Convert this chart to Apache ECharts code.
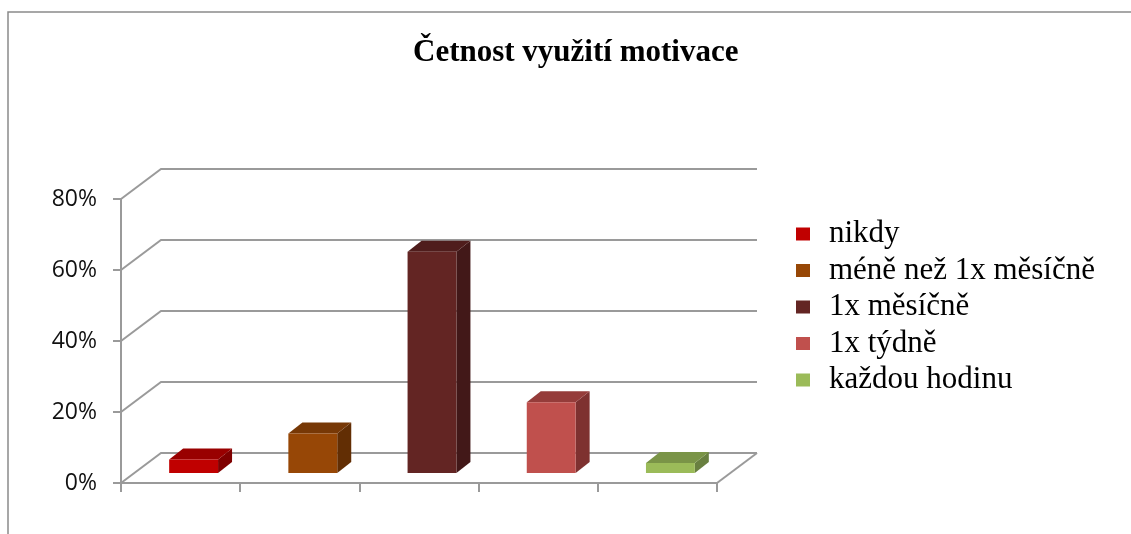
<!DOCTYPE html>
<html>
<head>
<meta charset="utf-8">
<title>Četnost využití motivace</title>
<script src="https://cdn.jsdelivr.net/npm/echarts@6/dist/echarts.min.js"></script>
<style>
  html, body { margin: 0; padding: 0; background: #fff; }
  #chart { width: 1131px; height: 534px; }
</style>
</head>
<body>
<div id="chart"></div>
<script>
// data
const categories = ["nikdy", "méně než 1x měsíčně", "1x měsíčně", "1x týdně", "každou hodinu"];
const values = [3.8, 11.1, 62.3, 19.9, 2.8];
const yTicks = [0, 20, 40, 60, 80];

// face colours (front / top / side)
const frontColors = ["#C00000", "#974706", "#632523", "#C0504D", "#9BBB59"];
const topColors = ["#990000", "#773806", "#4F1D1C", "#953C3A", "#7A9447"];
const sideColors = ["#7F0000", "#622E04", "#421818", "#7E3130", "#698040"];

// depth of the 3d box (back wall offset) and bar offsets
const wallDx = 40, wallDy = -30;
const barDx = 13, barDy = -10;
const depthDx = 14, depthDy = -11;
const gridColor = "#9A9A9A";

const chart = echarts.init(document.getElementById("chart"));

function renderWall(params, api) {
  const cs = params.coordSys;
  const v = api.value(1);
  const p = api.coord([0, v]);
  const x0 = cs.x, x1 = cs.x + cs.width, y = p[1];
  const children = [{
    type: "polyline",
    shape: { points: [[x0, y], [x0 + wallDx, y + wallDy], [x1 + wallDx, y + wallDy]] },
    style: { stroke: gridColor, lineWidth: 2, fill: null }
  }];
  if (v === 0) {
    children.push({
      type: "line",
      shape: { x1: x1, y1: y, x2: x1 + wallDx, y2: y + wallDy },
      style: { stroke: gridColor, lineWidth: 2 }
    });
  }
  return { type: "group", children: children };
}

function makeBarRenderer(i) {
  return function (params, api) {
    const idx = api.value(0);
    const top = api.coord([idx, api.value(1)]);
    const base = api.coord([idx, 0]);
    const bw = api.size([1, 0])[0] * 0.41;
    const xa = top[0] + barDx - bw / 2, xb = xa + bw;
    const yt = top[1] + barDy, yb = base[1] + barDy;
    return {
      type: "group",
      children: [
        {
          type: "polygon",
          shape: { points: [[xb, yt], [xb + depthDx, yt + depthDy], [xb + depthDx, yb + depthDy], [xb, yb]] },
          style: { fill: sideColors[i] }
        },
        {
          type: "polygon",
          shape: { points: [[xa, yt], [xb, yt], [xb + depthDx, yt + depthDy], [xa + depthDx, yt + depthDy]] },
          style: { fill: topColors[i] }
        },
        {
          type: "rect",
          shape: { x: xa, y: yt, width: bw, height: yb - yt },
          style: { fill: frontColors[i] }
        }
      ]
    };
  };
}

const barSeries = categories.map(function (name, i) {
  return {
    name: name,
    type: "custom",
    renderItem: makeBarRenderer(i),
    itemStyle: { color: frontColors[i] },
    encode: { x: 0, y: 1 },
    data: [[i, values[i]]],
    z: 3,
    silent: true
  };
});

chart.setOption({
  animation: false,
  backgroundColor: "#fff",
  graphic: [{
    type: "rect",
    shape: { x: 8, y: 12, width: 1300, height: 700 },
    style: { fill: null, stroke: "#8A8A8A", lineWidth: 1.5 },
    silent: true
  }],
  title: {
    text: "Četnost využití motivace",
    left: 408,
    top: 32,
    textStyle: {
      fontFamily: "Liberation Serif",
      fontWeight: "bold",
      fontSize: 31,
      color: "#000"
    }
  },
  legend: {
    orient: "vertical",
    left: 791,
    top: 213.5,
    icon: "rect",
    itemWidth: 14,
    itemHeight: 13,
    itemGap: 5.5,
    selectedMode: false,
    data: categories,
    textStyle: {
      fontFamily: "Liberation Serif",
      fontSize: 31,
      lineHeight: 31,
      color: "#000",
      padding: [0, 0, 0, 14]
    }
  },
  grid: {
    left: 121,
    right: 414,
    top: 199,
    bottom: 51
  },
  xAxis: {
    type: "category",
    data: categories,
    boundaryGap: true,
    axisLine: { show: true, lineStyle: { color: gridColor, width: 2 } },
    axisTick: { show: true, interval: 0, length: 9, lineStyle: { color: gridColor, width: 2 } },
    axisLabel: { show: false, interval: 0 },
    splitLine: { show: false }
  },
  yAxis: {
    type: "value",
    min: 0,
    max: 80,
    interval: 20,
    axisLine: { show: true, lineStyle: { color: gridColor, width: 2 } },
    axisTick: { show: true, length: 8, lineStyle: { color: gridColor, width: 2 } },
    axisLabel: {
      margin: 24,
      formatter: "{value}%",
      fontFamily: "Open Sans",
      fontSize: 23,
      color: "#111"
    },
    splitLine: { show: false }
  },
  series: [{
    name: "wall",
    type: "custom",
    renderItem: renderWall,
    encode: { x: 0, y: 1 },
    data: yTicks.map(function (v) { return [0, v]; }),
    z: 1,
    silent: true,
    clip: false
  }].concat(barSeries)
});
</script>
</body>
</html>
